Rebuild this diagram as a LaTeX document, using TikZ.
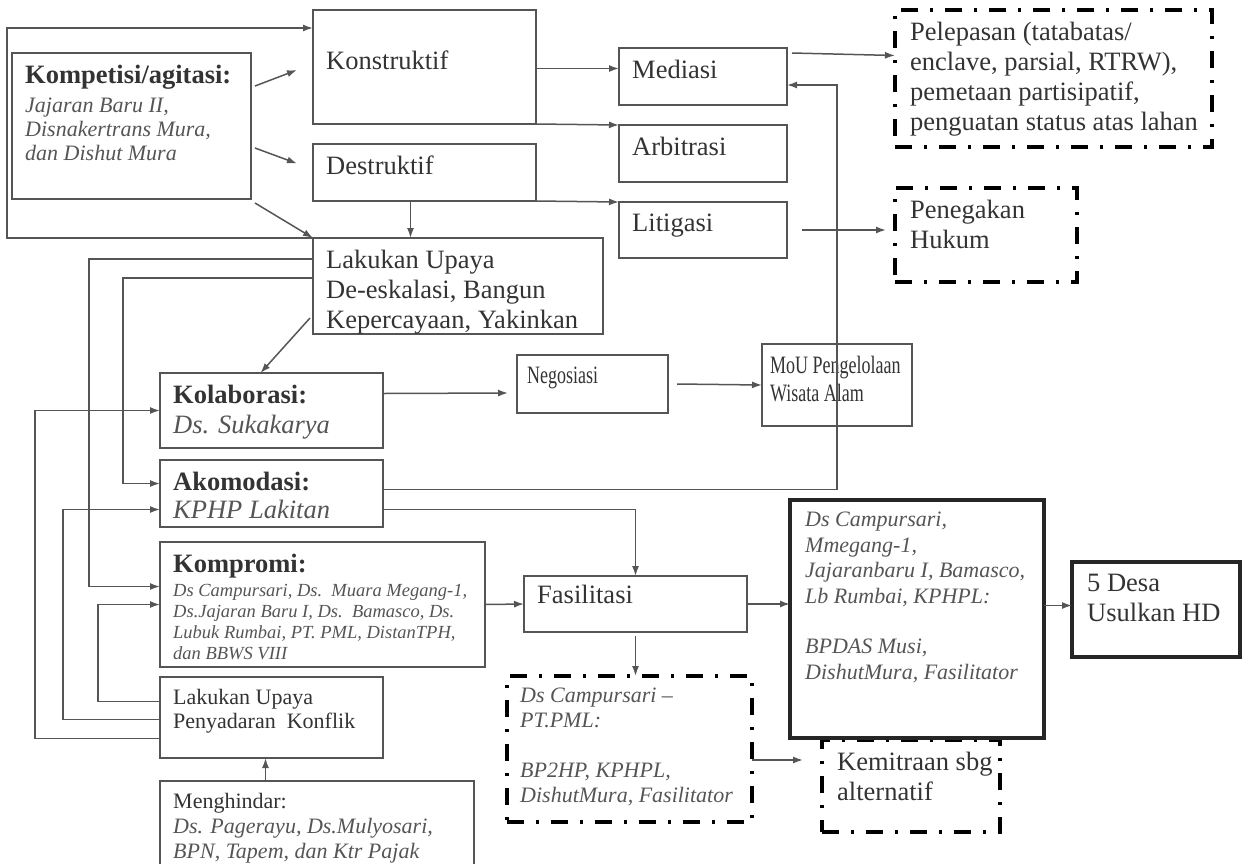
\documentclass[tikz,border=0pt]{standalone}
\usepackage{fontspec}
\setmainfont{Liberation Serif}
\newfontfamily\narrowserif[FakeStretch=0.72]{Liberation Serif}
\usetikzlibrary{arrows.meta, positioning}
\usepackage{xcolor}
\definecolor{linegray}{HTML}{555555}
\definecolor{txtgray}{HTML}{333333}
\definecolor{itgray}{HTML}{555555}

\begin{document}
\begin{tikzpicture}[
x=1pt, y=-1pt,
box/.style 2 args={draw=linegray, line width=1.6pt, anchor=north west, inner sep=0pt, outer sep=0pt, minimum width=#1, minimum height=#2},
dashbox/.style 2 args={box={#1}{#2}, draw=black, line width=3.5pt, dash pattern=on 17pt off 12pt on 3pt off 12pt},
thickbox/.style 2 args={box={#1}{#2}, draw=black!85, line width=4pt},
lbl/.style={anchor=north west, align=left, inner xsep=13pt, inner ysep=12pt, text=txtgray, font=\fontsize{26.5}{30}\selectfont},
arrow/.style={-{Latex[length=10pt, width=7pt]}, draw=linegray, line width=1.5pt}
]
\useasboundingbox (0,0) rectangle (1252,863);

% konflik awal
\node[box={239pt}{146pt}, label={[lbl, font=\fontsize{22}{24}\selectfont\itshape, text=itgray]north west:{\upshape\bfseries\fontsize{26.5}{30}\selectfont\color{txtgray}Kompetisi/agitasi:}\\[5pt]Jajaran Baru II,\\Disnakertrans Mura,\\dan Dishut Mura}] (kompet) at (12,53) {};
\node[box={223pt}{114pt}, label={[lbl, yshift=-29pt]north west:Konstruktif}] (konstr) at (313,10) {};
\node[box={223pt}{57pt}, label={[lbl]north west:Destruktif}] (destr) at (313,144) {};
\node[box={168pt}{57pt}, label={[lbl]north west:Mediasi}] (mediasi) at (619,48) {};
\node[box={168pt}{57pt}, label={[lbl]north west:Arbitrasi}] (arbitr) at (619,125) {};
\node[box={168pt}{56pt}, label={[lbl]north west:Litigasi}] (litig) at (619,202) {};
\node[dashbox={317pt}{137pt}, label={[lbl, inner xsep=15pt]north west:Pelepasan (tatabatas/\\enclave, parsial, RTRW),\\pemetaan partisipatif,\\penguatan status atas lahan}] (lepas) at (895,10) {};
\node[dashbox={182pt}{94pt}, label={[lbl, inner xsep=15pt]north west:Penegakan\\Hukum}] (tegak) at (895,188) {};
\node[box={290pt}{96pt}, label={[lbl]north west:Lakukan Upaya\\De-eskalasi, Bangun\\Kepercayaan, Yakinkan}] (deesk) at (313,238) {};

% gaya penanganan
\node[box={223pt}{75pt}, label={[lbl]north west:{\bfseries Kolaborasi:}\\{\itshape\color{itgray}Ds. Sukakarya}}] (kolab) at (160,373) {};
\node[box={223pt}{67pt}, label={[lbl]north west:{\bfseries Akomodasi:}\\[-2pt]{\itshape\color{itgray}KPHP Lakitan}}] (akomod) at (160,460) {};
\node[box={325pt}{125pt}, label={[lbl, font=\fontsize{18.5}{21}\selectfont\itshape, text=itgray]north west:{\upshape\bfseries\fontsize{26.5}{30}\selectfont\color{txtgray}Kompromi:}\\[3pt]Ds Campursari, Ds.\ \ Muara Megang-1,\\Ds.Jajaran Baru I, Ds.\ \ Bamasco, Ds.\\Lubuk Rumbai, PT.\ PML, DistanTPH,\\dan BBWS VIII}] (kompro) at (160,542) {};
\node[box={223pt}{81pt}, label={[lbl, font=\fontsize{22}{24.5}\selectfont]north west:Lakukan Upaya\\Penyadaran\ \ Konflik}] (sadar) at (160,677) {};
\node[box={314pt}{95pt}, label={[lbl, font=\fontsize{22}{25}\selectfont\itshape, text=itgray]north west:{\upshape\color{txtgray}Menghindar:}\\Ds. Pagerayu, Ds.Mulyosari,\\BPN, Tapem, dan Ktr Pajak}] (hindar) at (160,781) {};

% hasil
\node[box={151pt}{58pt}, label={[lbl, inner xsep=10pt, font=\narrowserif\fontsize{25}{28}\selectfont]north west:Negosiasi}] (nego) at (517,355) {};
\node[box={150pt}{82pt}, label={[lbl, inner xsep=8pt, font=\narrowserif\fontsize{25}{28}\selectfont]north west:MoU Pengelolaan\\Wisata Alam}] (mou) at (762,344) {};
\node[box={223pt}{56pt}, label={[lbl, inner ysep=9pt]north west:Fasilitasi}] (fasil) at (524,576) {};
\node[dashbox={245pt}{146pt}, label={[lbl, font=\fontsize{22}{25}\selectfont\itshape, text=itgray]north west:Ds Campursari --\\PT.PML:\\[25pt]BP2HP, KPHPL,\\DishutMura, Fasilitator}] (pml) at (507,676) {};
\node[dashbox={178pt}{92pt}, label={[lbl, inner xsep=15pt]north west:Kemitraan sbg\\alternatif}] (mitra) at (822,740) {};
\node[thickbox={254pt}{238pt}, label={[lbl, inner xsep=15pt, font=\fontsize{22}{25.5}\selectfont\itshape, text=itgray]north west:Ds Campursari,\\Mmegang-1,\\Jajaranbaru I, Bamasco,\\Lb Rumbai, KPHPL:\\[25pt]BPDAS Musi,\\DishutMura,\ Fasilitator}] (usulan) at (790,500) {};
\node[thickbox={168pt}{95pt}, label={[lbl, inner xsep=15pt]north west:5 Desa\\Usulkan HD}] (desa) at (1072,562) {};

\coordinate (loopL) at (7,28);
\coordinate (loopR) at (837,85);

% panah
\draw[arrow] (deesk.north west) -| (loopL) -- (konstr.west |- loopL);
\draw[arrow] ([xshift=4pt,yshift=-33pt]kompet.north east) -- ([xshift=-16pt,yshift=-3pt]konstr.west);
\draw[arrow] ([xshift=4pt,yshift=-95pt]kompet.north east) -- ([xshift=-16pt,yshift=9pt]destr.west);
\draw[arrow] ([xshift=4pt,yshift=-4pt]kompet.south east) -- (deesk.north west);
\draw[arrow] ([xshift=-14pt]destr.south) -- ([xshift=-14pt]destr.south |- deesk.north);
\draw[arrow] ([yshift=8pt]mediasi.west -| konstr.east) -- ([yshift=8pt]mediasi.west);
\draw[arrow] (konstr.south east) -- (arbitr.north west);
\draw[arrow] (destr.south east) -- (litig.north west);
\draw[arrow] ([xshift=5pt,yshift=-5pt]mediasi.north east) -- ([yshift=23pt]lepas.west);
\draw[arrow] ([xshift=15pt]litig.east) -- ([xshift=-9pt]tegak.west |- litig.east);
\draw[arrow] ([yshift=4pt]akomod.east) -| (loopR) -- (mediasi.east |- loopR);
\draw[arrow] ([yshift=-16pt]akomod.east) -| (fasil.north);
\draw[arrow] ([xshift=-3pt,yshift=16pt]deesk.south west) -- ([xshift=-11pt]kolab.north);
\draw[arrow] ([yshift=-21pt]deesk.north west) -| ([xshift=-71pt,yshift=18pt]kompro.west) -- ([yshift=18pt]kompro.west);
\draw[arrow] ([yshift=-40pt]deesk.north west) -| ([xshift=-37pt,yshift=10pt]akomod.west) -- ([yshift=10pt]akomod.west);
\draw[arrow] ([yshift=-21pt]sadar.west) -| ([xshift=-125pt]kolab.west) -- (kolab.west);
\draw[arrow] ([yshift=-2pt]sadar.west) -| ([xshift=-97pt,yshift=-16pt]akomod.west) -- ([yshift=-16pt]akomod.west);
\draw[arrow] ([yshift=16pt]sadar.west) -| ([xshift=-62pt]kompro.west) -- (kompro.west);
\draw[arrow] ([xshift=-6pt]sadar.south |- hindar.north) -- ([xshift=-6pt]sadar.south);
\draw[arrow] ([yshift=17pt]kolab.east) -- ([xshift=-9pt,yshift=-9pt]nego.west);
\draw[arrow] ([xshift=9pt]nego.east) -- (mou.west);
\draw[arrow] (kompro.east) -- (fasil.west);
\draw[arrow] (fasil.east) -- (usulan.west |- fasil.east);
\draw[arrow] ([yshift=-4pt]fasil.south) -- (fasil.south |- pml.north);
\draw[arrow] ([yshift=-11pt]pml.east) -- ([xshift=-19pt,yshift=26pt]mitra.west);
\draw[arrow] ([yshift=4pt]desa.west -| usulan.east) -- ([yshift=4pt]desa.west);

\end{tikzpicture}
\end{document}
